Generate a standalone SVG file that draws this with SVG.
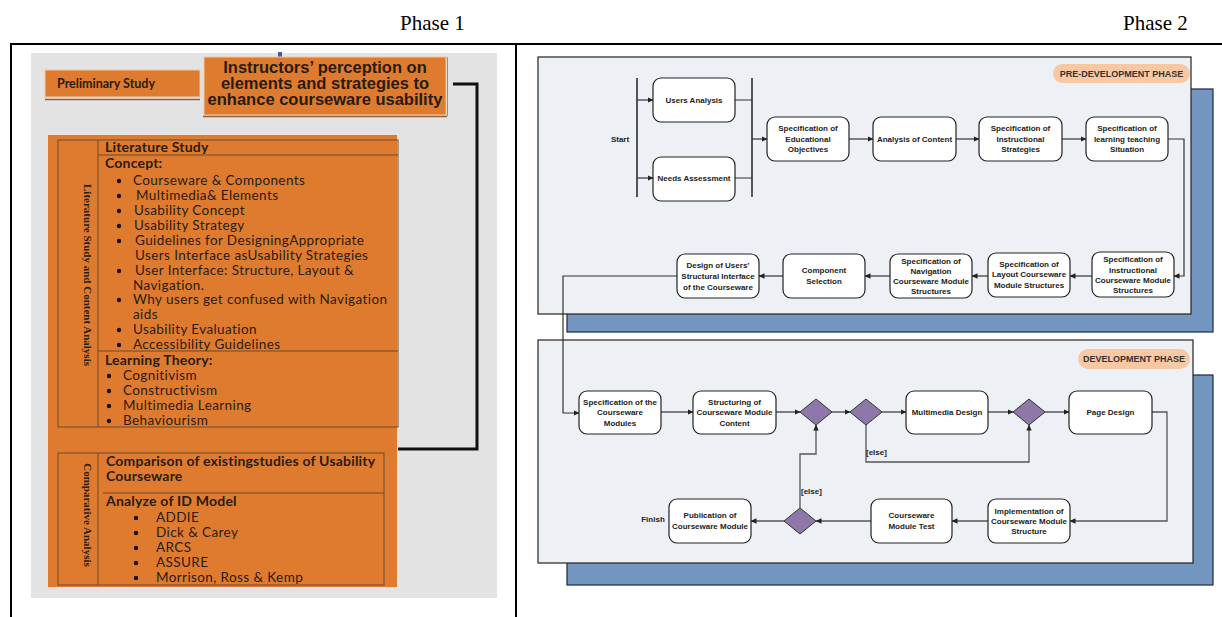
<svg xmlns="http://www.w3.org/2000/svg" width="1222" height="617" viewBox="0 0 1222 617">
<defs>
<marker id="ar" markerWidth="6" markerHeight="6" refX="5.5" refY="3" orient="auto" markerUnits="userSpaceOnUse"><path d="M0,0.3 L6,3 L0,5.7 Z" fill="#222"/></marker>
<style>
.hdr{font-family:"Liberation Serif",serif;font-size:21px;fill:#000}
.lt{font-family:Lato,"Liberation Sans",sans-serif;font-size:13.5px;letter-spacing:0.4px;fill:#2a1c0e}
.lb{font-family:Lato,"Liberation Sans",sans-serif;font-size:14px;letter-spacing:0.2px;font-weight:bold;fill:#2a1c0e}
.rot{font-family:"Liberation Serif",serif;font-size:11px;font-weight:bold;fill:#2a1c0e}
.nd{fill:#fff;stroke:#222;stroke-width:1.2}
.nt{font-family:"Liberation Sans",Arial,sans-serif;font-size:8px;font-weight:bold;fill:#222;text-anchor:middle}
.lbl{font-family:"Liberation Sans",Arial,sans-serif;font-size:8px;font-weight:bold;fill:#222}
.dm{fill:#8e78a9;stroke:#333;stroke-width:1}
.cn{fill:none;stroke:#333;stroke-width:1.2}
.cg{fill:none;stroke:#555;stroke-width:1.3}
.ph{fill:#edf0f5;stroke:#222;stroke-width:1.2}
.sh{fill:#7396c0;stroke:#1c2a3a;stroke-width:1.2}
.pill{fill:#f7c8a3}
.pt{font-family:"Liberation Sans",Arial,sans-serif;font-size:9px;font-weight:bold;fill:#333;text-anchor:middle}
.org{fill:#de7b2f}
.bx{fill:none;stroke:#6b4a2a;stroke-width:1}
</style>
</defs>

<!-- headers and frame -->
<text class="hdr" x="400" y="30">Phase 1</text>
<text class="hdr" x="1123" y="30">Phase 2</text>
<path d="M10,44 H1222 M11,44 V617 M516,44 V617" stroke="#000" stroke-width="2" fill="none"/>

<!-- Phase 1 -->
<g id="phase1-bg">
<rect x="31" y="53" width="466" height="545" fill="#e3e3e3"/>
<rect x="278" y="52" width="4" height="5" fill="#3b5ea0"/>
</g>

<g id="preliminary">
<rect x="45" y="70" width="155" height="27" class="org" stroke="#f2c8a0" stroke-width="1"/>
<line x1="45" y1="99.5" x2="200" y2="99.5" stroke="#8a6040" stroke-width="1.5"/>
<text x="57" y="88" font-family="Lato,'Liberation Sans',sans-serif" font-size="12.5" font-weight="bold" fill="#2a1c0e">Preliminary Study</text>
</g>

<g id="instructors">
<rect x="204" y="57" width="242" height="58" class="org" stroke="#f2c8a0" stroke-width="1"/>
<line x1="203" y1="116.5" x2="447" y2="116.5" stroke="#8a6040" stroke-width="1.5"/>
<line x1="447.5" y1="57" x2="447.5" y2="116" stroke="#b08a6a" stroke-width="1"/>
<g font-family="'Liberation Sans',Arial,sans-serif" font-size="16.5" font-weight="bold" fill="#2a1c0e" text-anchor="middle">
<text x="325" y="73">Instructors’ perception on</text>
<text x="325" y="89">elements and strategies to</text>
<text x="325" y="105">enhance courseware usability</text>
</g>
</g>

<g id="phase1-connector">
<path d="M453,84 H477 V449 H398" fill="none" stroke="#111" stroke-width="3"/>
</g>

<g id="literature">
<rect x="48" y="135" width="349" height="452" class="org"/>
<rect x="58" y="140" width="340" height="287" class="bx"/>
<path d="M98,140 V427 M98,155 H398 M98,351 H398" class="bx"/>
<text class="rot" transform="translate(84,275) rotate(90)" text-anchor="middle">Literature Study and Content Analysis</text>
<text class="lb" x="105" y="152">Literature Study</text>
<text class="lb" x="105" y="168">Concept:</text>
<g class="lt">
<text x="133" y="185">Courseware &amp; Components</text>
<text x="136" y="200">Multimedia&amp; Elements</text>
<text x="134" y="215">Usability Concept</text>
<text x="134" y="230">Usability Strategy</text>
<text x="135" y="245">Guidelines for DesigningAppropriate</text>
<text x="135" y="260">Users Interface asUsability Strategies</text>
<text x="135" y="275">User Interface: Structure, Layout &amp;</text>
<text x="133" y="290">Navigation.</text>
<text x="133" y="304">Why users get confused with Navigation</text>
<text x="133" y="319">aids</text>
<text x="133" y="334">Usability Evaluation</text>
<text x="133" y="349">Accessibility Guidelines</text>
</g>
<g fill="#1a1008">
<circle cx="119" cy="181" r="2.2"/><circle cx="119" cy="196" r="2.2"/><circle cx="119" cy="211" r="2.2"/><circle cx="119" cy="226" r="2.2"/><circle cx="119" cy="241" r="2.2"/><circle cx="119" cy="271" r="2.2"/><circle cx="119" cy="300" r="2.2"/><circle cx="119" cy="330" r="2.2"/><circle cx="119" cy="345" r="2.2"/>
</g>
<text class="lb" x="105" y="365">Learning Theory:</text>
<g class="lt">
<text x="123" y="380">Cognitivism</text>
<text x="123" y="395">Constructivism</text>
<text x="123" y="410">Multimedia Learning</text>
<text x="123" y="425">Behaviourism</text>
</g>
<g fill="#1a1008">
<circle cx="109" cy="376" r="2.2"/><circle cx="109" cy="391" r="2.2"/><circle cx="109" cy="406" r="2.2"/><circle cx="109" cy="421" r="2.2"/>
</g>
</g>

<g id="comparative">
<rect x="58" y="453" width="326" height="132" class="bx"/>
<path d="M98,453 V585 M103,493 H384" class="bx"/>
<text class="rot" transform="translate(84,515) rotate(90)" text-anchor="middle">Comparative Analysis</text>
<text class="lb" x="106" y="466">Comparison of existingstudies of Usability</text>
<text class="lb" x="106" y="481">Courseware</text>
<text class="lb" x="106" y="506">Analyze of ID Model</text>
<g class="lt">
<text x="156" y="522">ADDIE</text>
<text x="156" y="537">Dick &amp; Carey</text>
<text x="156" y="552">ARCS</text>
<text x="156" y="567">ASSURE</text>
<text x="156" y="582">Morrison, Ross &amp; Kemp</text>
</g>
<g fill="#1a1008">
<circle cx="136" cy="518" r="2.2"/><circle cx="136" cy="533" r="2.2"/><circle cx="136" cy="548" r="2.2"/><circle cx="136" cy="563" r="2.2"/><circle cx="136" cy="578" r="2.2"/>
</g>
</g>

<!-- Phase 2 -->
<g id="pre-development-phase">
<rect x="567" y="89" width="646" height="243" class="sh"/>
<rect x="538" y="57" width="653" height="257" class="ph"/>
<rect x="1053" y="64" width="137" height="19" rx="9.5" class="pill"/>
<text class="pt" x="1121.5" y="77">PRE-DEVELOPMENT PHASE</text>
</g>

<g id="development-phase">
<rect x="567" y="375" width="646" height="210" class="sh"/>
<rect x="538" y="340" width="655" height="223" class="ph"/>
<rect x="1078" y="349" width="112" height="20" rx="10" class="pill"/>
<text class="pt" x="1134" y="362">DEVELOPMENT PHASE</text>
</g>

<g id="connectors">
<path d="M637,78 V197 M752,78 V197" fill="none" stroke="#222" stroke-width="1.5"/>
<path class="cn" d="M637,100 H653" marker-end="url(#ar)"/>
<path class="cn" d="M637,178 H653" marker-end="url(#ar)"/>
<path class="cn" d="M735,100 H752 M735,178 H752"/>
<path class="cn" d="M752,139 H767" marker-end="url(#ar)"/>
<path class="cn" d="M849,139 H873" marker-end="url(#ar)"/>
<path class="cn" d="M956,139 H979" marker-end="url(#ar)"/>
<path class="cn" d="M1062,139 H1086" marker-end="url(#ar)"/>
<path class="cn" d="M1168,139 H1184 V276 H1174" marker-end="url(#ar)"/>
<path class="cn" d="M1092,276 H1070" marker-end="url(#ar)"/>
<path class="cn" d="M988,276 H972" marker-end="url(#ar)"/>
<path class="cn" d="M890,276 H865" marker-end="url(#ar)"/>
<path class="cn" d="M783,276 H759" marker-end="url(#ar)"/>
<path class="cn" d="M677,276 H563 V413 H579" marker-end="url(#ar)"/>
<path class="cn" d="M661,412 H693" marker-end="url(#ar)"/>
<path class="cn" d="M776,412 H800" marker-end="url(#ar)"/>
<path class="cn" d="M832,412 H850" marker-end="url(#ar)"/>
<path class="cn" d="M882,412 H906" marker-end="url(#ar)"/>
<path class="cn" d="M988,412 H1013" marker-end="url(#ar)"/>
<path class="cn" d="M1045,412 H1069" marker-end="url(#ar)"/>
<path class="cg" d="M1152,412 H1167 V521 H1070" marker-end="url(#ar)"/>
<path class="cg" d="M988,521 H952" marker-end="url(#ar)"/>
<path class="cg" d="M871,521 H816" marker-end="url(#ar)"/>
<path class="cg" d="M784,521 H751" marker-end="url(#ar)"/>
<path class="cg" d="M800,508 V454 H816 V425" marker-end="url(#ar)"/>
<path class="cg" d="M866,425 V462 H1029 V425" marker-end="url(#ar)"/>
<text class="lbl" x="866" y="455">[else]</text>
<text class="lbl" x="801" y="494">[else]</text>
</g>

<g id="start"><text class="lbl" x="620" y="142" text-anchor="middle">Start</text></g>
<g id="finish"><text class="lbl" x="653" y="522" text-anchor="middle">Finish</text></g>

<g id="users-analysis"><rect class="nd" x="653" y="78" width="82" height="44" rx="8"/><text class="nt" x="694" y="103">Users Analysis</text></g>
<g id="needs-assessment"><rect class="nd" x="653" y="157" width="82" height="44" rx="8"/><text class="nt" x="694" y="181">Needs Assessment</text></g>
<g id="spec-edu-objectives"><rect class="nd" x="767" y="117" width="82" height="44" rx="8"/><text class="nt" x="808" y="131">Specification of</text><text class="nt" x="808" y="142">Educational</text><text class="nt" x="808" y="152">Objectives</text></g>
<g id="analysis-content"><rect class="nd" x="873" y="117" width="83" height="44" rx="8"/><text class="nt" x="914.5" y="142">Analysis of Content</text></g>
<g id="spec-instr-strategies"><rect class="nd" x="979" y="117" width="83" height="44" rx="8"/><text class="nt" x="1020.5" y="131">Specification of</text><text class="nt" x="1020.5" y="142">Instructional</text><text class="nt" x="1020.5" y="152">Strategies</text></g>
<g id="spec-learning-situation"><rect class="nd" x="1086" y="117" width="82" height="44" rx="8"/><text class="nt" x="1127" y="131">Specification of</text><text class="nt" x="1127" y="142">learning  teaching</text><text class="nt" x="1127" y="152">Situation</text></g>

<g id="spec-instr-cms"><rect class="nd" x="1092" y="252" width="82" height="45" rx="8"/><text class="nt" x="1133" y="262">Specification of</text><text class="nt" x="1133" y="272.5">Instructional</text><text class="nt" x="1133" y="283">Courseware Module</text><text class="nt" x="1133" y="293">Structures</text></g>
<g id="spec-layout-cms"><rect class="nd" x="988" y="253" width="82" height="44" rx="8"/><text class="nt" x="1029" y="266.5">Specification of</text><text class="nt" x="1029" y="277">Layout Courseware</text><text class="nt" x="1029" y="288">Module Structures</text></g>
<g id="spec-nav-cms"><rect class="nd" x="890" y="254" width="82" height="44" rx="8"/><text class="nt" x="931" y="263.5">Specification of</text><text class="nt" x="931" y="274">Navigation</text><text class="nt" x="931" y="284">Courseware Module</text><text class="nt" x="931" y="294">Structures</text></g>
<g id="component-selection"><rect class="nd" x="783" y="254" width="82" height="44" rx="8"/><text class="nt" x="824" y="273">Component</text><text class="nt" x="824" y="283.5">Selection</text></g>
<g id="design-users-interface"><rect class="nd" x="677" y="254" width="82" height="44" rx="8"/><text class="nt" x="718" y="268">Design of Users’</text><text class="nt" x="718" y="279">Structural Interface</text><text class="nt" x="718" y="290">of the Courseware</text></g>

<g id="spec-courseware-modules"><rect class="nd" x="579" y="391" width="82" height="43" rx="8"/><text class="nt" x="620" y="405">Specification of the</text><text class="nt" x="620" y="415">Courseware</text><text class="nt" x="620" y="426">Modules</text></g>
<g id="structuring-content"><rect class="nd" x="693" y="391" width="83" height="43" rx="8"/><text class="nt" x="734.5" y="405">Structuring of</text><text class="nt" x="734.5" y="415">Courseware Module</text><text class="nt" x="734.5" y="426">Content</text></g>
<g id="decision-1"><path class="dm" d="M816,399 L832,412 L816,425 L800,412 Z"/></g>
<g id="decision-2"><path class="dm" d="M866,399 L882,412 L866,425 L850,412 Z"/></g>
<g id="multimedia-design"><rect class="nd" x="906" y="391" width="82" height="43" rx="8"/><text class="nt" x="947" y="415">Multimedia Design</text></g>
<g id="decision-3"><path class="dm" d="M1029,399 L1045,412 L1029,425 L1013,412 Z"/></g>
<g id="page-design"><rect class="nd" x="1069" y="391" width="83" height="43" rx="8"/><text class="nt" x="1110.5" y="415">Page Design</text></g>
<g id="implementation"><rect class="nd" x="988" y="499" width="82" height="44" rx="8"/><text class="nt" x="1029" y="514">Implementation of</text><text class="nt" x="1029" y="524">Courseware Module</text><text class="nt" x="1029" y="534">Structure</text></g>
<g id="module-test"><rect class="nd" x="871" y="499" width="81" height="44" rx="8"/><text class="nt" x="911.5" y="518">Courseware</text><text class="nt" x="911.5" y="529">Module Test</text></g>
<g id="decision-4"><path class="dm" d="M800,508 L816,521 L800,534 L784,521 Z"/></g>
<g id="publication"><rect class="nd" x="669" y="499" width="82" height="44" rx="8"/><text class="nt" x="710" y="518">Publication of</text><text class="nt" x="710" y="529">Courseware Module</text></g>
</svg>
